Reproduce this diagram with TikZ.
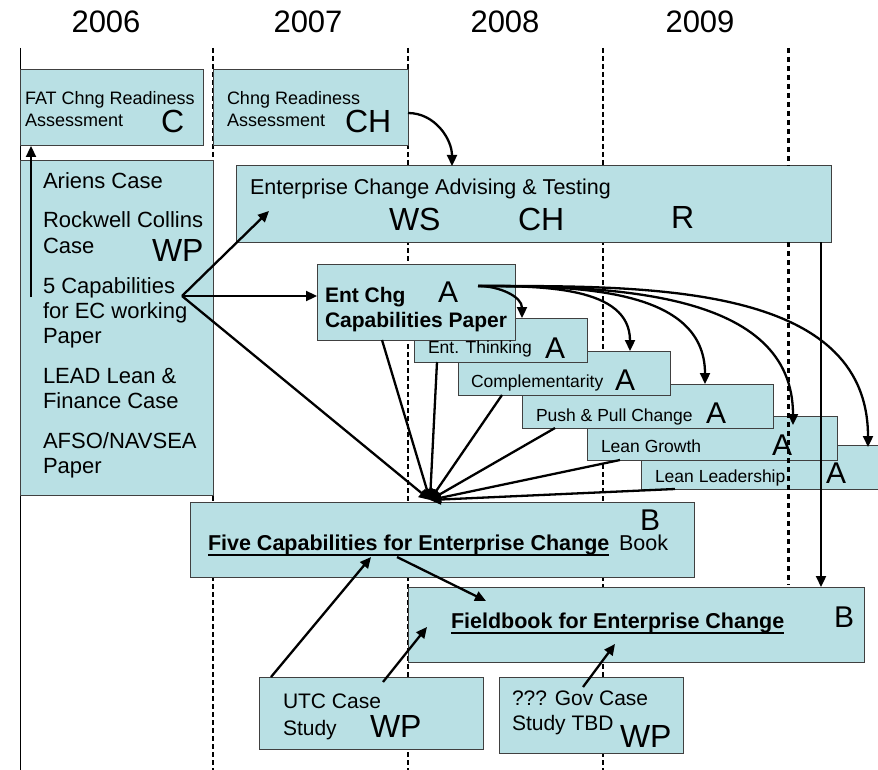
\documentclass[tikz,border=0pt]{standalone}
\usepackage{fontspec}
\setmainfont{Liberation Sans}
\usetikzlibrary{arrows.meta}
\definecolor{boxfill}{RGB}{185,224,228}
\definecolor{boxline}{RGB}{64,64,64}
\newcommand\fsz[1]{\fontsize{#1pt}{#1pt}\selectfont}
% box from corner (x1,y1) to corner (x2,y2)
\newcommand\mkbox[5]{%
  \node[bx, minimum width={(#4-#2)*1pt}, minimum height={(#5-#3)*1pt}]
    (#1) at ({(#2+#4)/2},{(#3+#5)/2}) {};}
\begin{document}
\begin{tikzpicture}[x=1pt,y=-1pt,
  bx/.style={draw=boxline, line width=1pt, fill=boxfill, inner sep=0pt, outer sep=0pt},
  txt/.style={anchor=base west, inner sep=0pt, outer sep=0pt},
  year/.style={anchor=base, inner sep=0pt, font=\fsz{31}},
  big/.style={txt, font=\fsz{32}},
  grade/.style={txt, font=\fsz{30}},
  conn/.style={line width=2.3pt, -{Triangle[length=11pt,width=10pt]}},
  yline/.style={line width=1.2pt, dash pattern=on 5pt off 3pt},
  yline2/.style={line width=3pt, dash pattern=on 5pt off 4pt},
  uline/.style={line width=2.2pt}]
\useasboundingbox[fill=white] (0,0) rectangle (878,770);

% year headings
\node[year] (y06) at (106,33) {2006};
\node[year] (y07) at (308,33) {2007};
\node[year] (y08) at (505,33) {2008};
\node[year] (y09) at (700,33) {2009};

% year boundaries
\draw[line width=1pt] (20,48) -- (20,770);
\foreach \xx in {213,408,603} \draw[yline] (\xx,48) -- (\xx,770);

% boxes
\mkbox{fat}{20}{70}{203}{146}
\mkbox{chng}{213}{70}{408}{146}
\mkbox{left}{20}{161}{213}{495}
\mkbox{ecat}{236}{166}{831}{242}
\mkbox{ll}{641}{445}{900}{489}
\mkbox{lg}{587}{416}{837}{460}
\mkbox{push}{522}{384}{773}{428}
\mkbox{comp}{458}{351}{670}{395}
\mkbox{et}{414}{318}{587}{362}
\mkbox{ecc}{317}{264}{515}{340}
\mkbox{five}{190}{502}{694}{577}
\mkbox{field}{408}{587}{864}{662}
\mkbox{utc}{259}{677}{483}{749}
\mkbox{gov}{499}{677}{683}{753}

% 2010 boundary
\draw[yline2] (788,48) -- (788,166);
\draw[yline2] (788,242) -- (788,585);

% texts
\node[txt, font=\fsz{18}] (t1a) at (25,105) {FAT Chng Readiness};
\node[txt, font=\fsz{18}] (t1b) at (25,127) {Assessment};
\node[big] (t1c) at (161,133) {C};
\node[txt, font=\fsz{18}] (t2a) at (227,105) {Chng Readiness};
\node[txt, font=\fsz{18}] (t2b) at (227,127) {Assessment};
\node[big] (t2c) at (345,133) {CH};

\foreach \s/\yy [count=\i] in {Ariens Case/189, Rockwell Collins/228, Case/254,
    5 Capabilities/293, for EC working/318, Paper/343, LEAD Lean \&/383,
    Finance Case/408, {AFSO/NAVSEA}/448, Paper/473}
  \node[txt, font=\fsz{22}] (l\i) at (43,\yy) {\s};
\node[big] (lwp) at (152,261) {WP};

\node[txt, font=\fsz{21.5}] (t4a) at (250,195) {Enterprise Change Advising \& Testing};
\node[big] (t4b) at (389,230) {WS};
\node[big] (t4c) at (518,230) {CH};
\node[big] (t4d) at (671,229) {R};

\node[txt, font=\bfseries\fsz{21}] (t5a) at (325,302) {Ent Chg};
\node[txt, font=\bfseries\fsz{21}] (t5b) at (325,327) {Capabilities Paper};
\node[grade] (t5c) at (438,302) {A};

\node[txt, font=\fsz{17.5}] (t6a) at (428,353) {Ent. Thinking};
\node[grade] (t6b) at (545,358) {A};
\node[txt, font=\fsz{17.5}] (t7a) at (471,387) {Complementarity};
\node[grade] (t7b) at (615,390) {A};
\node[txt, font=\fsz{17.5}] (t8a) at (536,421) {Push \& Pull Change};
\node[grade] (t8b) at (706,423) {A};
\node[txt, font=\fsz{17.5}] (t9a) at (601,452) {Lean Growth};
\node[grade] (t9b) at (772,455) {A};
\node[txt, font=\fsz{17.5}] (t10a) at (655,482) {Lean Leadership};
\node[grade] (t10b) at (826,483) {A};

\node[txt, font=\bfseries\fsz{21.5}] (t11a) at (208,550) {Five Capabilities for Enterprise Change};
\draw[uline] ([yshift=-5pt]t11a.base west) -- ([yshift=-5pt]t11a.base east);
\node[txt, font=\fsz{21.5}] (t11b) at (619,550) {Book};
\node[grade] (t11c) at (640,530) {B};

\node[txt, font=\bfseries\fsz{21.5}] (t12a) at (451,628) {Fieldbook for Enterprise Change};
\draw[uline] ([yshift=-5pt]t12a.base west) -- ([yshift=-5pt]t12a.base east);
\node[grade] (t12b) at (834,627) {B};

\node[txt, font=\fsz{21}] (t13a) at (283,708) {UTC Case};
\node[txt, font=\fsz{21}] (t13b) at (283,735) {Study};
\node[big] (t13c) at (370,737) {WP};
\node[txt, font=\fsz{21}] (t14a) at (512,705) {??? Gov Case};
\node[txt, font=\fsz{21}] (t14b) at (512,730) {Study TBD};
\node[big] (t14c) at (620,747) {WP};

% connector end points
\coordinate (cap5) at (182,296);
\coordinate (src) at (478,286);
\coordinate (cv) at (430,500);
\coordinate (lup) at (31,297);
\coordinate (vtop) at (821,242);

% connectors
\draw[conn] (lup) -- (lup |- fat.south);
\draw[conn] ([yshift=-5pt]chng.east) to[out=0,in=90] ([xshift=-81.5pt]ecat.north);
\draw[conn] (cap5) -- (269,211);
\draw[conn] (cap5) -- (ecc.west |- cap5);
\draw[conn] (cap5) -- (cv);
\draw[conn] ([xshift=65pt]ecc.south west) -- (cv);
\draw[conn] ([xshift=23pt]et.south west) -- (cv);
\draw[conn] ([xshift=44pt]comp.south west) -- (cv);
\draw[conn] ([xshift=33pt]push.south west) -- (cv);
\draw[conn] ([xshift=33pt]lg.south west) -- (cv);
\draw[conn] ([xshift=34pt]ll.south west) -- (cv);

\draw[conn] (src) to[out=0,in=90] ([xshift=108pt]et.north west);
\draw[conn] (src) to[out=0,in=90] ([xshift=172pt]comp.north west);
\draw[conn] (src) to[out=0,in=90] ([xshift=183pt]push.north west);
\draw[conn] (src) to[out=0,in=90] ([xshift=206pt,yshift=-9pt]lg.north west);
\draw[conn] (src) to[out=0,in=90] ([xshift=227pt,yshift=-2pt]ll.north west);

\draw[conn] (vtop) -- (vtop |- field.north);
\draw[conn] (397,557) -- (486,601);
\draw[conn] ([xshift=12pt]utc.north west) -- (371,557);
\draw[conn] ([xshift=124pt,yshift=-5pt]utc.north west) -- (427,627);
\draw[conn] ([xshift=84pt,yshift=-10pt]gov.north west) -- (615,644);
\end{tikzpicture}
\end{document}
